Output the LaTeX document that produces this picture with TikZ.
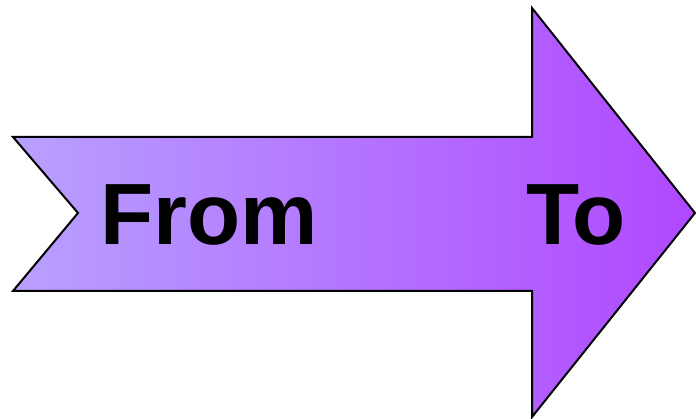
\documentclass[tikz,border=0pt]{standalone}
\usepackage{fontspec}
\setmainfont{Liberation Sans}
\usepackage{xcolor}
\usepackage{tikz}
\usetikzlibrary{positioning}
\definecolor{arrowlight}{HTML}{B8A0FF}
\definecolor{arrowmid}{HTML}{B584FF}
\definecolor{arrowdark}{HTML}{B048FF}
\tikzset{
  bigarrow/.style={draw=black,line width=2pt,line join=miter,
                   left color=arrowlight,middle color=arrowmid,right color=arrowdark},
  word/.style    ={anchor=base west,inner sep=0pt,font=\fontsize{87}{94}\selectfont\bfseries}
}

\begin{document}
\begin{tikzpicture}[x=1pt,y=-1pt]
    % --- page frame: 696 x 419 ---
    \useasboundingbox (0,0) rectangle (696,419);
    % --- arrow outline: notched tail, shaft, head ---
    \draw[bigarrow] (13,137) -- (532,137) -- (532,8) -- (695,213)
      -- (532,417) -- (532,291) -- (13,291) -- (78,213) -- cycle;
    % --- labels ---
    \node[word] (from) at (100,245) {From};
    \node[word] (to) at (526,245) {To};
\end{tikzpicture}
\end{document}
